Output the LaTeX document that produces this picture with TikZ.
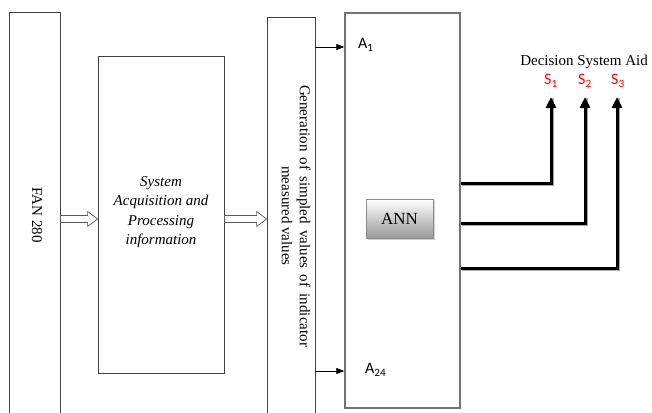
\documentclass[tikz,border=0pt]{standalone}
\usepackage{fontspec}
\setmainfont{Liberation Serif}
\newfontfamily\calib{Carlito}
\usetikzlibrary{arrows.meta,shadows,calc}
\tikzset{
  box/.style={draw=black!75, line width=0.8pt, inner sep=0pt, fill=white},
  bigbox/.style={draw=black!55, line width=1.4pt, inner sep=0pt, fill=white},
  hollow/.style={draw=black!65, line width=0.7pt, fill=white, line join=miter},
  thinarrow/.style={draw=black, line width=0.8pt, -{Triangle[length=8pt,width=6pt]}},
  thickarrow/.style={draw=black, line width=3pt, line join=miter,
     -{Triangle[length=11pt,width=10pt]},
     preaction={draw=black!35, line width=3pt, -, transform canvas={shift={(1pt,-1pt)}}}},
  btn/.style={draw=black!45, line width=0.6pt, top color=white, bottom color=black!40,
     drop shadow={shadow xshift=1.5pt, shadow yshift=-1.5pt, opacity=0.35}},
  serif15/.style={font=\fontsize{15}{18}\selectfont},
  albl/.style={font=\calib\fontsize{16}{18}\selectfont, inner sep=1pt},
  slbl/.style={font=\calib\fontsize{16}{18}\selectfont, text=red, inner sep=1pt}
}
\newcommand\hollowarrow[2]{%
  \draw[hollow] let \p1=(#1), \p2=(#2) in
    (\x1,\y1+3.5pt) -- (\x2-10pt,\y1+3.5pt) -- (\x2-10pt,\y1+7.5pt) -- (\x2,\y1)
    -- (\x2-10pt,\y1-7.5pt) -- (\x2-10pt,\y1-3.5pt) -- (\x1,\y1-3.5pt) -- cycle;}
\begin{document}
\begin{tikzpicture}[x=1pt,y=-1pt]
\useasboundingbox (0,0) rectangle (652,412);
\clip (0,0) rectangle (652,412);

% FAN box
\node[box, minimum width=51pt, minimum height=430pt] (fan) at (34.5,227) {};
\node[serif15, rotate=-90] (fantext) at (37,215) {FAN 280};

% Acquisition box
\node[box, minimum width=126pt, minimum height=317pt] (acq) at (161,214.5) {};
\node[align=center, font=\itshape\fontsize{15}{19.5}\selectfont] (acqtext) at (161,212)
      {System\\Acquisition and\\Processing\\information};

% Generation box
\node[box, minimum width=48pt, minimum height=430pt] (gen) at (291,232) {};
\node[rotate=-90, align=center, font=\fontsize{15}{18}\selectfont] (gentext) at (296,216)
  {\makebox[262pt][s]{Generation of simpled values of indicator}\\measured values};

% ANN big box
\node[bigbox, minimum width=115pt, minimum height=395pt] (annbox) at (402.5,210.5) {};
\node[btn, minimum width=67pt, minimum height=39pt, inner sep=0pt,
      font=\fontsize{17}{20}\selectfont] (ann) at (399.5,218.5) {ANN};

% Input labels
\node[albl, anchor=west] (a1) at (357,45) {A\textsubscript{1}};
\node[albl, anchor=west] (a24) at (364,370) {A\textsubscript{24}};

% Output labels
\node[serif15] (dsa) at (584,62) {Decision System Aid};
\node[slbl] (s1) at (551,81) {S\textsubscript{1}};
\node[slbl] (s2) at (585,81) {S\textsubscript{2}};
\node[slbl] (s3) at (618,81) {S\textsubscript{3}};
\coordinate (t1) at (551,97);
\coordinate (t2) at (585,97);
\coordinate (t3) at (617,97);

% Hollow arrows
\hollowarrow{fan.east |- 0,219}{acq.west |- 0,219}
\hollowarrow{acq.east |- 0,219}{gen.west |- 0,219}

% Thin input arrows
\draw[thinarrow] (gen.east |- 0,47) -- (annbox.west |- 0,47);
\draw[thinarrow] (gen.east |- 0,371) -- (annbox.west |- 0,371);

% Thick output connectors
\draw[thickarrow] (annbox.east |- 0,183) -| (t1);
\draw[thickarrow] (annbox.east |- 0,223) -| (t2);
\draw[thickarrow] (annbox.east |- 0,268) -| (t3);
\end{tikzpicture}
\end{document}
